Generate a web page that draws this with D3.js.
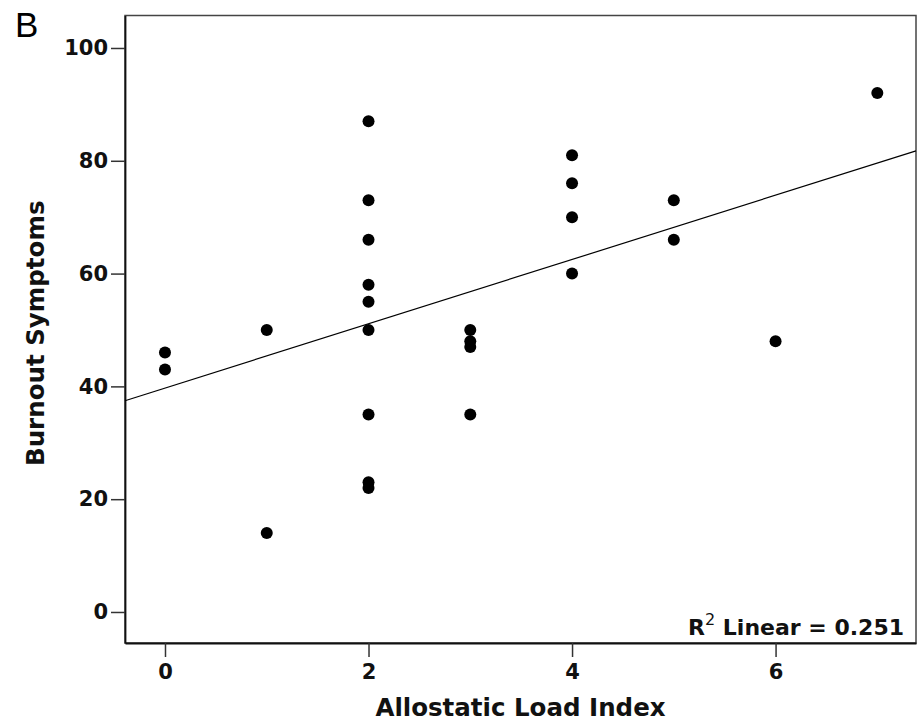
<!doctype html>
<html lang="en">
<head>
<script src="https://d3js.org/d3.v7.min.js"></script>
<style>
  body { margin:0; background:#fff; }
  .tick text { font-family:"DejaVu Sans", sans-serif; font-weight:bold; font-size:21px; fill:#111; }
  .axis-title { font-family:"DejaVu Sans", sans-serif; font-weight:bold; font-size:24.5px; fill:#111; text-anchor:middle; }
  .dot { fill:#000; }
  #fit-line { stroke:#000; stroke-width:1.2; fill:none; }
</style>
</head>
<body>
<div id="chart"></div>
<script>
  // data
  let allostatic = [0,0, 1,1, 2,2,2,2,2,2,2,2,2, 3,3,3,3, 4,4,4,4, 5,5, 6, 7];
  let burnout    = [46,43, 50,14, 87,73,66,58,55,50,35,23,22, 50,48,47,35, 81,76,70,60, 73,66, 48, 92];
  let xTicks = [0,2,4,6];
  let yTicks = [0,20,40,60,80,100];
  // fit line as drawn in the figure (some points overlap, so read it off directly)
  let fitIntercept = 39.7, fitSlope = 5.7;
  let r2Label = "0.251";

  let W = 919, H = 726;
  let margin = {top: 15.5, right: 3, bottom: 83, left: 125};
  let width = W - margin.left - margin.right,
      height = H - margin.top - margin.bottom;

  let svg = d3.select("#chart").append("svg")
      .attr("width", W).attr("height", H);

  let g = svg.append("g")
      .attr("transform", "translate(" + margin.left + "," + margin.top + ")");

  let xScale = d3.scaleLinear().domain([-0.393, 7.38]).range([0, width]);
  let yScale = d3.scaleLinear().domain([-5.5, 105.76]).range([height, 0]);

  // frame
  g.append("rect").attr("x",0).attr("y",0).attr("width",width).attr("height",height)
     .attr("fill","none").attr("stroke","#444").attr("stroke-width",1.5);

  let xAxis = g.append("g").attr("transform","translate(0," + height + ")")
     .call(d3.axisBottom(xScale).tickValues(xTicks).tickSize(14).tickPadding(7).tickSizeOuter(0));
  let yAxis = g.append("g")
     .call(d3.axisLeft(yScale).tickValues(yTicks).tickSize(14).tickPadding(3).tickSizeOuter(0));

  [xAxis, yAxis].forEach(function(a){
    a.select(".domain").attr("stroke","#111").attr("stroke-width",1.8);
    a.selectAll(".tick line").attr("stroke","#333").attr("stroke-width",1.5);
  });

  let xd = xScale.domain();
  g.append("line").attr("id","fit-line")
     .attr("x1", xScale(xd[0])).attr("y1", yScale(fitIntercept + fitSlope*xd[0]))
     .attr("x2", xScale(xd[1])).attr("y2", yScale(fitIntercept + fitSlope*xd[1]));

  g.selectAll(".dot").data(allostatic).enter().append("circle")
     .attr("class","dot")
     .attr("cx", d => xScale(d))
     .attr("cy", (d,i) => yScale(burnout[i]))
     .attr("r", 6);

  // R2 label
  let r2 = g.append("text").attr("class","axis-title")
     .attr("x", width - 12).attr("y", height - 8)
     .style("text-anchor","end").style("font-size","22px");
  r2.append("tspan").text("R");
  r2.append("tspan").attr("dy",-10).style("font-size","16px").style("font-weight","normal").text("2");
  r2.append("tspan").attr("dy",10).text(" Linear = " + r2Label);

  // axis titles
  svg.append("text").attr("class","axis-title")
     .attr("x", margin.left + width/2).attr("y", 716)
     .text("Allostatic Load Index");
  svg.append("text").attr("class","axis-title")
     .attr("transform","translate(44," + (margin.top + height/2 + 4) + ") rotate(-90)")
     .text("Burnout Symptoms");

  // panel letter
  svg.append("text").attr("x",15).attr("y",37)
     .style("font-family","'Liberation Sans', Arial, sans-serif").style("font-size","35px")
     .text("B");
</script>
</body>
</html>
